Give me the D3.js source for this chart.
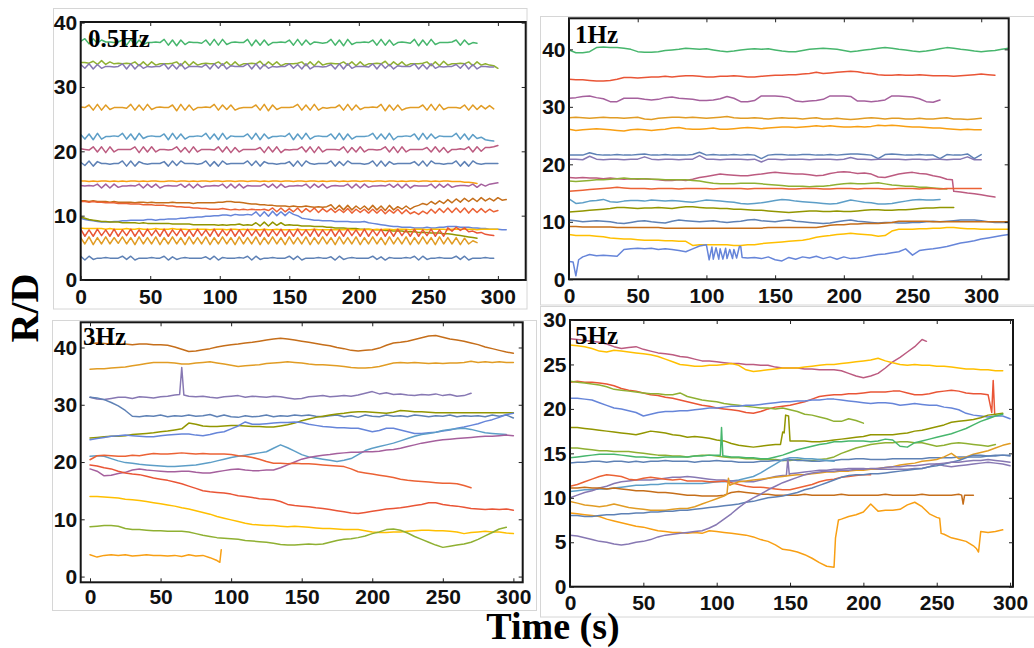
<!DOCTYPE html>
<html>
<head>
<meta charset="utf-8">
<script src="https://cdn.jsdelivr.net/npm/d3@7"></script>
<style>
  html, body { margin: 0; padding: 0; background: #fff; }
  svg { display: block; }
</style>
</head>
<body>
<svg id="fig" width="1034" height="648"></svg>
<script>
// ---------------------------------------------------------------
// R/D traces versus time, four excitation frequencies.
// Each trace is a list of readings on a regular time grid
// (step in seconds given per panel); extra points hold narrow
// spikes and steps as [traceIndex, time, value].
// ---------------------------------------------------------------

const titles = ["0.5Hz", "1Hz", "3Hz", "5Hz"];
const xTicks = [0, 50, 100, 150, 200, 250, 300];
const yTicksA = [0, 10, 20, 30, 40];
const yTicksB = [0, 5, 10, 15, 20, 25, 30];

// ---------------- 0.5 Hz (readings every 3 s) ----------------
const step05 = 3;
const rd05 = [
  [37.1,37.5,36.7,37.5,36.8,37.3,37.0,37.0,36.9,37.0, 37.3,36.5,37.4,36.5,37.3,36.6,36.9,36.9,37.0,36.9, 37.4,36.5,37.3,36.4,37.3,36.6,37.0,36.9,36.9,36.8, 37.3,36.5,37.4,36.5,37.4,36.6,36.9,37.0,36.9,36.9, 37.4,36.4,37.3,36.5,37.3,36.5,36.9,36.9,37.0,36.9, 37.3,36.5,37.4,36.5,37.3,36.6,37.0,36.9,36.8,36.9, 37.4,36.5,37.3,36.4,37.4,36.6,36.9,36.9,37.0,36.9, 37.3,36.5,37.4,36.5,37.3,36.5,36.9,37.0,36.9,36.8, 37.4,36.4,37.3,36.5,37.4,36.6,36.9,36.9,36.9,37.0, 37.3,36.5,37.3,36.6,36.9,36.8],
  [33.8,33.8,33.7,34.0,33.5,34.1,33.5,33.9,33.6,33.7, 33.6,33.7,33.6,33.9,33.3,33.9,33.3,33.9,33.4,33.6, 33.6,33.6,33.7,33.9,33.3,34.0,33.3,33.9,33.4,33.6, 33.7,33.6,33.6,33.9,33.4,33.9,33.3,33.9,33.3,33.6, 33.6,33.7,33.6,34.0,33.3,33.9,33.4,33.9,33.3,33.6, 33.6,33.6,33.7,33.9,33.3,33.9,33.3,34.0,33.4,33.6, 33.7,33.6,33.6,33.9,33.4,33.9,33.3,33.9,33.3,33.6, 33.6,33.7,33.6,34.0,33.3,33.9,33.4,33.9,33.3,33.6, 33.6,33.6,33.7,33.9,33.3,33.9,33.3,34.0,33.4,33.6, 33.6,33.7,33.6,33.9,33.3,33.9,33.4,33.6,33.4,33.3, 32.9],
  [33.5,32.9,33.6,32.8,33.5,32.9,33.2,33.2,33.1,33.2, 33.6,32.8,33.6,32.8,33.5,32.9,33.2,33.1,33.2,33.2, 33.6,32.8,33.5,32.8,33.6,32.8,33.2,33.2,33.2,33.1, 33.5,32.8,33.6,32.9,33.6,32.8,33.3,33.2,33.2,33.2, 33.6,32.8,33.6,32.8,33.5,32.9,33.2,33.1,33.2,33.2, 33.6,32.9,33.5,32.8,33.6,32.8,33.2,33.2,33.1,33.2, 33.5,32.8,33.6,32.8,33.6,32.9,33.2,33.2,33.2,33.1, 33.6,32.8,33.6,32.9,33.5,32.8,33.3,33.2,33.2,33.2, 33.6,32.8,33.5,32.8,33.6,32.9,33.2,33.1,33.2,33.2, 33.5,32.9,33.6,32.8,33.5,32.8,33.2,33.2,33.1,33.1],
  [26.9,26.8,27.2,26.4,27.3,26.4,27.2,26.5,26.8,26.8, 26.8,26.7,27.3,26.4,27.2,26.4,27.3,26.5,26.8,26.9, 26.8,26.8,27.2,26.3,27.3,26.4,27.2,26.4,26.8,26.8, 26.9,26.8,27.3,26.4,27.2,26.5,27.2,26.4,26.7,26.8, 26.8,26.8,27.2,26.4,27.3,26.3,27.2,26.5,26.8,26.8, 26.8,26.9,27.3,26.4,27.2,26.4,27.3,26.4,26.8,26.7, 26.8,26.8,27.2,26.4,27.3,26.4,27.2,26.5,26.8,26.8, 26.9,26.8,27.3,26.3,27.2,26.4,27.2,26.4,26.7,26.8, 26.8,26.8,27.2,26.4,27.3,26.4,27.3,26.5,26.8,26.8, 26.8,26.7,27.2,26.4,27.2,26.5,27.1,26.6,27.1,26.6],
  [22.6,21.9,22.7,21.8,22.8,21.9,22.3,22.3,22.4,22.3, 22.8,21.9,22.7,21.8,22.8,22.0,22.3,22.4,22.3,22.3, 22.7,21.8,22.8,21.9,22.7,21.9,22.3,22.3,22.4,22.3, 22.8,21.9,22.7,21.8,22.8,21.9,22.4,22.3,22.3,22.3, 22.7,21.9,22.8,21.8,22.7,22.0,22.3,22.3,22.4,22.3, 22.8,21.8,22.7,21.9,22.8,21.9,22.3,22.4,22.3,22.3, 22.7,21.9,22.8,21.8,22.7,21.9,22.3,22.3,22.3,22.4, 22.8,21.9,22.7,21.9,22.8,21.8,22.3,22.3,22.4,22.3, 22.7,21.8,22.8,21.9,22.7,22.0,22.4,22.3,22.3,22.3, 22.8,21.9,22.7,21.8,22.6,22.0,22.2,21.8,21.7,21.6],
  [20.4,20.3,20.2,20.7,19.9,20.7,19.8,20.7,19.9,20.3, 20.3,20.3,20.3,20.7,19.8,20.7,19.9,20.7,19.9,20.3, 20.3,20.2,20.3,20.7,19.9,20.6,19.8,20.7,19.9,20.3, 20.3,20.3,20.2,20.7,19.9,20.7,19.8,20.6,19.9,20.3, 20.3,20.3,20.3,20.6,19.8,20.7,19.9,20.7,19.8,20.3, 20.2,20.3,20.3,20.7,19.9,20.7,19.8,20.7,19.9,20.3, 20.3,20.3,20.2,20.7,19.8,20.6,19.9,20.7,19.9,20.3, 20.3,20.2,20.3,20.7,19.9,20.7,19.8,20.7,19.9,20.3, 20.3,20.3,20.3,20.6,19.9,20.7,19.9,20.6,19.8,20.3, 20.3,20.4,20.3,20.7,19.9,20.7,20.0,20.6,20.6,20.7, 20.9],
  [18.3,17.8,18.5,17.7,18.4,18.1,18.1,18.0,18.1,18.1, 18.5,17.7,18.5,17.7,18.4,18.1,18.0,18.1,18.1,18.1, 18.4,17.7,18.5,17.8,18.5,18.1,18.1,18.1,18.0,18.1, 18.5,17.7,18.4,17.7,18.5,18.0,18.1,18.1,18.1,18.1, 18.5,17.8,18.5,17.7,18.4,18.1,18.1,18.0,18.1,18.1, 18.4,17.7,18.5,17.7,18.5,18.1,18.0,18.1,18.1,18.1, 18.5,17.7,18.4,17.8,18.5,18.1,18.1,18.1,18.0,18.1, 18.5,17.7,18.5,17.7,18.4,18.0,18.1,18.1,18.1,18.1, 18.4,17.8,18.5,17.7,18.5,18.1,18.1,18.0,18.1,18.1, 18.5,17.7,18.4,17.7,18.5,18.1,18.0,18.1,18.1,18.1, 18.1],
  [15.4,15.4,15.3,15.4,15.3,15.4,15.4,15.3,15.4,15.3, 15.4,15.3,15.4,15.4,15.3,15.4,15.3,15.4,15.4,15.3, 15.3,15.4,15.4,15.3,15.4,15.4,15.3,15.4,15.3,15.4, 15.4,15.3,15.4,15.4,15.3,15.4,15.4,15.3,15.4,15.4, 15.3,15.4,15.4,15.3,15.4,15.3,15.4,15.4,15.3,15.4, 15.4,15.3,15.4,15.4,15.3,15.4,15.4,15.3,15.4,15.3, 15.4,15.4,15.3,15.4,15.3,15.4,15.4,15.3,15.4,15.4, 15.3,15.4,15.4,15.3,15.4,15.4,15.3,15.4,15.3,15.4, 15.4,15.3,15.4,15.4,15.3,15.4,15.3,15.4,15.4,15.3, 15.3,15.3,15.2,15.2,15.1,15.0],
  [14.7,14.6,14.7,14.6,14.9,14.3,14.9,14.3,14.9,14.4, 14.6,14.6,14.7,14.6,14.9,14.3,14.9,14.4,14.9,14.3, 14.6,14.7,14.6,14.6,14.9,14.4,14.9,14.3,14.9,14.4, 14.6,14.6,14.7,14.6,14.9,14.3,14.9,14.3,14.9,14.3, 14.7,14.6,14.6,14.6,14.9,14.4,14.9,14.3,14.9,14.4, 14.6,14.6,14.7,14.6,14.9,14.3,14.9,14.4,14.9,14.3, 14.6,14.7,14.6,14.6,14.9,14.3,14.9,14.3,14.9,14.4, 14.6,14.6,14.7,14.6,14.9,14.4,14.9,14.3,14.9,14.3, 14.7,14.6,14.6,14.6,14.9,14.3,14.9,14.4,14.9,14.4, 14.6,14.7,14.7,14.6,14.9,14.4,14.9,14.6,14.9,15.0, 15.1],
  [12.3,12.3,12.2,12.3,12.2,12.2,12.2,12.1,12.2,12.1, 12.1,12.1,12.1,12.0,12.1,12.1,12.0,12.1,12.0,12.0, 12.0,12.0,12.1,12.0,12.0,12.0,12.0,11.9,12.0,12.0, 12.0,12.0,12.0,12.1,12.1,12.2,12.2,12.1,12.1,12.0, 11.9,11.8,11.8,11.7,11.7,11.6,11.6,11.5,11.5,11.5, 11.4,11.5,11.4,11.4,11.5,11.4,11.3,11.4,11.3,11.4, 11.7,11.0,11.6,10.9,11.6,10.9,11.5,11.0,11.5,10.9, 11.6,10.9,11.5,10.8,11.6,10.9,11.4,11.0,11.5,11.0, 11.4,11.6,11.9,11.7,12.2,11.8,12.3,11.9,12.5,12.0, 12.6,12.1,12.7,12.2,12.7,12.2,12.8,12.3,12.7,12.3, 12.8,12.4,12.5],
  [12.2,12.2,12.1,12.2,12.1,12.1,12.0,12.0,12.0,11.9, 11.9,11.9,11.8,11.8,11.8,11.7,11.7,11.7,11.6,11.6, 11.6,11.5,11.5,11.4,11.4,11.3,11.3,11.2,11.2,11.1, 11.1,11.0,11.0,11.0,11.1,11.0,10.9,11.0,10.9,11.0, 10.9,11.0,10.9,10.9,11.0,10.8,11.2,10.6,11.2,10.6, 11.1,10.6,11.2,10.5,11.1,10.6,11.2,10.5,11.1,10.6, 11.1,10.5,11.0,10.5,11.1,10.4,11.0,10.5,11.0,10.4, 11.0,10.4,11.0,10.3,10.9,10.4,11.0,10.3,10.9,10.3, 10.6,10.2,10.7,10.3,11.0,10.4,11.1,10.5,11.2,10.5, 11.2,10.5,11.2,10.4,11.1,10.5,11.1,10.5,11.0,10.6, 10.8],
  [9.6,9.4,9.3,9.2,9.1,9.0,9.0,9.0,9.1,9.1, 9.2,9.2,9.3,9.3,9.3,9.3,9.4,9.4,9.3,9.4, 9.4,9.5,9.5,9.5,9.6,9.6,9.7,9.7,9.8,9.8, 9.9,9.9,10.0,10.0,10.1,10.1,10.0,10.2,10.1,10.1, 10.2,10.1,10.6,9.9,10.6,9.9,10.7,10.0,10.6,10.0, 10.6,10.2,10.0,9.6,9.5,9.4,9.3,9.3,9.2,9.2, 9.2,9.1,9.1,9.1,9.1,9.0,9.0,9.0,9.1,8.9, 8.8,8.7,8.6,8.5,8.4,8.3,8.3,8.2,8.2,8.2, 8.1,8.1,8.1,8.2,8.1,8.1,8.2,8.2,8.3,8.3, 8.3,8.2,8.2,8.2,8.1,8.1,8.0,8.0,7.9,7.9, 7.9,7.8,7.8],
  [9.8,9.6,9.4,9.3,9.2,9.1,9.1,9.0,9.0,9.0, 8.9,8.9,8.9,8.9,8.8,8.9,8.8,8.8,8.8,8.8, 8.8,8.8,8.7,8.7,8.7,8.7,8.7,8.6,8.6,8.6, 8.6,8.6,8.6,8.5,8.6,8.5,8.6,8.6,8.7,8.5, 8.6,8.5,8.9,8.4,9.0,8.4,9.0,8.5,8.9,8.5, 8.6,8.5,8.5,8.4,8.4,8.4,8.3,8.3,8.3,8.2, 8.2,8.1,8.1,8.1,8.0,8.0,8.0,7.9,7.9,7.9, 7.8,7.8,7.8,7.7,7.7,7.6,7.6,7.6,7.5,7.5, 7.5,7.4,7.4,7.4,7.3,7.3,7.3,7.2,7.2,7.1, 7.0,6.9,6.8,6.7,6.6,6.5],
  [8.1,8.0,8.0,8.0,8.0,8.0,7.9,8.0,7.9,7.9, 7.9,8.0,7.9,7.9,8.0,7.9,7.9,7.9,8.0,7.9, 7.9,7.9,8.0,7.9,7.9,7.9,7.8,7.9,7.9,7.9, 7.9,7.8,7.9,7.9,7.9,7.8,7.9,7.9,7.8,7.9, 7.8,7.9,7.8,7.8,7.9,7.8,7.8,7.9,7.8,7.8, 7.8,7.8,7.9,7.8,7.8,7.8,7.9,7.8,7.8,7.8, 7.8,7.8,7.8,7.8,7.9,7.8,7.8,7.8,7.8,7.9, 7.8,7.9,7.8,7.9,7.9,7.8,7.9,7.9,7.9,7.8, 7.9,7.9,7.9,7.8,7.9,7.9,7.9,7.9,7.8,7.9, 7.9,7.9,7.9,7.9,7.9,7.8,7.9,7.9,7.9,7.9, 7.9],
  [7.9,6.8,7.8,6.8,7.9,6.9,7.8,6.8,7.9,6.8, 7.8,6.9,7.9,6.8,7.8,6.8,7.9,6.9,7.8,6.8, 7.9,6.8,7.8,6.9,7.9,6.8,7.8,6.8,7.9,6.9, 7.8,6.8,7.9,6.8,7.8,6.9,7.9,6.8,7.8,6.8, 7.9,6.9,7.8,6.8,7.9,6.8,7.8,6.9,7.9,6.8, 7.8,6.8,7.9,6.9,7.8,6.8,7.9,6.8,7.8,6.9, 7.9,6.8,7.8,6.8,7.9,6.9,7.8,6.8,7.9,6.8, 7.8,6.9,7.9,6.8,7.8,6.8,7.9,6.9,7.8,6.8, 7.9,6.8,7.8,6.9,7.9,6.8,7.8,6.8,8.1,7.6, 8.2,7.7,8.1,7.5,7.6,7.3,7.4,7.1,7.0,6.9],
  [6.6,5.6,6.7,5.5,6.6,5.6,6.7,5.6,6.6,5.7, 6.7,5.6,6.6,5.5,6.7,5.6,6.6,5.6,6.7,5.5, 6.6,5.6,6.7,5.6,6.6,5.5,6.7,5.6,6.6,5.6, 6.7,5.5,6.6,5.6,6.7,5.6,6.6,5.5,6.7,5.6, 6.6,5.6,6.7,5.5,6.6,5.6,6.7,5.6,6.6,5.5, 6.7,5.6,6.6,5.6,6.7,5.5,6.6,5.6,6.7,5.6, 6.6,5.5,6.7,5.6,6.6,5.6,6.7,5.5,6.6,5.6, 6.7,5.6,6.6,5.5,6.7,5.6,6.6,5.6,6.7,5.5, 6.6,5.6,6.7,5.6,6.6,5.5,6.7,5.6,6.6,5.6, 6.6,5.5,6.5,5.6,6.1,5.8],
  [3.7,3.1,3.7,3.2,3.4,3.4,3.5,3.4,3.4,3.4, 3.7,3.2,3.7,3.1,3.4,3.4,3.4,3.5,3.4,3.4, 3.7,3.1,3.6,3.2,3.4,3.5,3.4,3.4,3.4,3.4, 3.6,3.2,3.7,3.1,3.5,3.4,3.4,3.4,3.5,3.4, 3.7,3.1,3.7,3.2,3.4,3.4,3.5,3.4,3.4,3.4, 3.7,3.2,3.7,3.1,3.4,3.4,3.4,3.5,3.4,3.4, 3.6,3.1,3.7,3.2,3.4,3.5,3.4,3.4,3.4,3.4, 3.7,3.2,3.6,3.1,3.5,3.4,3.4,3.4,3.5,3.4, 3.7,3.1,3.7,3.2,3.4,3.4,3.5,3.4,3.4,3.4, 3.7,3.2,3.7,3.1,3.4,3.4,3.4,3.5,3.4,3.4]
];
const colors05 = ["#47B66D","#8FB032","#8778B3","#E19C24","#5D9EC7","#BC5B80","#5E81B5","#F89F13",
                  "#A5609D","#C56E1A","#EB6235","#6685D9","#929600","#FFBF00","#E95536","#E19C24","#5E81B5"];
const extra05 = [];

// ---------------- 1 Hz (readings every 5 s) ----------------
const step1 = 5;
const rd1 = [
  [39.9,39.4,39.4,39.6,40.3,40.4,40.3,40.3,40.2,40.0, 39.6,39.5,39.5,39.6,39.8,39.9,40.0,40.2,40.1,40.0, 40.1,39.9,39.7,39.6,39.7,39.9,40.0,40.1,40.0,40.1, 39.9,39.7,39.6,39.6,39.8,40.0,40.1,40.2,40.1,40.0, 39.8,39.6,39.7,39.9,40.0,40.2,40.3,40.2,40.0,39.9, 39.7,39.6,39.7,39.9,40.1,40.3,40.2,40.0,39.9,39.7, 39.6,39.7,39.8,40.0,40.2],
  [34.8,34.7,34.7,34.6,34.5,34.5,34.6,34.8,35.1,35.1, 35.0,35.1,35.2,35.2,35.3,35.2,35.3,35.4,35.4,35.3, 35.2,35.2,35.3,35.3,35.4,35.3,35.2,35.2,35.3,35.4, 35.5,35.5,35.6,35.6,35.7,35.8,36.0,35.8,35.9,36.0, 36.1,36.2,36.1,35.9,35.8,35.6,35.5,35.5,35.6,35.5, 35.5,35.6,35.5,35.4,35.4,35.4,35.3,35.4,35.5,35.6, 35.7,35.6,35.5],
  [31.5,31.6,31.8,31.9,31.6,31.4,30.9,30.9,31.5,31.5, 31.5,31.3,31.2,31.3,31.6,31.7,31.5,31.4,31.3,31.1, 31.1,31.2,31.4,31.8,31.5,30.9,30.9,31.1,31.9,31.9, 31.9,31.8,31.6,31.0,30.9,31.0,31.1,31.3,31.9,31.9, 31.9,31.8,31.0,31.0,30.9,31.0,31.2,31.9,31.9,31.8, 31.7,31.4,30.9,30.8,31.2],
  [28.1,28.2,28.1,28.0,28.1,28.2,28.1,28.1,28.0,28.1, 28.2,27.9,27.8,28.0,28.1,28.2,28.2,28.1,28.2,28.1, 28.0,28.1,28.2,28.3,28.1,28.0,28.0,28.1,28.0,27.9, 28.0,28.1,28.0,28.0,27.9,28.0,28.1,27.9,27.9,28.0, 27.9,27.8,27.9,28.0,28.1,28.0,27.9,28.0,28.0,27.9, 27.9,28.0,27.9,27.9,28.0,28.1,27.9,27.9,27.8,27.9, 28.0],
  [26.1,25.9,26.0,26.1,26.2,26.1,26.0,25.9,25.8,26.0, 26.1,26.0,25.9,26.0,26.1,26.3,26.4,26.2,26.1,26.1, 26.2,26.3,26.1,26.1,26.2,26.3,26.4,26.3,26.2,26.3, 26.4,26.5,26.5,26.4,26.5,26.6,26.7,26.6,26.7,26.6, 26.5,26.5,26.6,26.5,26.6,26.8,26.7,26.8,26.7,26.6, 26.5,26.5,26.4,26.3,26.3,26.2,26.1,26.0,26.1,26.0, 26.0],
  [21.6,21.6,21.6,22.0,21.7,21.6,21.6,21.7,21.6,21.6, 21.7,21.8,21.6,21.6,21.7,21.6,21.6,21.6,21.7,22.1, 21.6,21.7,21.6,21.6,21.7,21.6,21.7,21.6,21.0,21.6, 21.7,21.7,21.6,21.6,21.7,21.7,21.6,21.6,21.7,21.6, 21.7,21.8,21.8,21.7,21.6,21.0,21.7,21.8,21.7,21.6, 21.6,21.7,21.6,21.6,21.0,21.7,21.6,21.6,21.8,21.0, 21.7],
  [20.9,20.9,20.8,21.4,20.9,20.8,20.9,20.9,20.8,20.9, 20.9,21.3,20.9,20.8,20.9,20.9,20.8,20.9,20.9,21.5, 20.9,20.9,20.8,20.9,20.9,20.9,20.8,20.9,20.4,20.9, 20.9,20.8,20.9,20.9,20.9,20.8,20.9,20.9,20.9,20.8, 20.9,21.2,20.9,20.9,20.8,20.9,20.9,20.9,20.9,20.8, 20.9,20.9,20.8,20.9,20.9,20.8,20.9,20.9,21.3,20.8, 20.8],
  [17.7,17.6,17.7,17.6,17.6,17.5,17.6,17.5,17.4,17.5, 17.4,17.5,17.4,17.3,17.2,17.2,17.3,17.2,17.4,17.7, 17.9,18.1,18.3,18.2,18.1,18.0,18.0,18.2,18.3,18.5, 18.6,18.5,18.4,18.3,18.3,18.2,18.0,18.1,18.4,18.6, 18.7,18.6,18.4,18.5,18.3,17.8,17.7,18.0,18.3,18.5, 18.6,18.4,18.3,18.0,17.8,17.4,15.3,15.2,15.0,14.9, 14.7,14.5,14.3],
  [17.1,17.0,17.1,17.2,17.3,17.3,17.4,17.5,17.6,17.5, 17.5,17.5,17.4,17.4,17.3,17.3,17.3,17.3,17.2,17.1, 16.9,16.7,16.6,16.6,16.6,16.7,16.7,16.7,16.6,16.5, 16.4,16.3,16.2,16.2,16.2,16.1,16.2,16.2,16.3,16.5, 16.6,16.7,16.6,16.6,16.7,16.8,16.6,16.4,16.3,16.2, 16.2,16.0,16.0,15.9,15.8,15.7],
  [15.3,15.4,15.5,15.6,15.7,15.8,15.9,16.0,15.9,15.8, 15.8,15.8,15.7,15.8,15.8,15.8,15.7,15.8,15.8,15.8, 15.8,15.7,15.8,15.8,15.8,15.8,15.7,15.8,15.8,15.8, 15.8,15.8,15.7,15.7,15.8,15.8,15.8,15.7,15.7,15.8, 15.8,15.8,15.7,15.8,15.8,15.8,15.7,15.7,15.8,15.8, 15.8,15.7,15.8,15.8,15.7,15.8,15.8,15.8,15.8,15.8, 15.8],
  [14.0,13.2,13.3,13.6,13.7,13.9,13.5,13.4,13.6,13.7, 13.7,13.6,13.8,13.7,13.6,13.7,13.6,13.5,13.4,13.6, 13.8,13.7,13.6,13.5,13.4,13.2,13.1,13.2,13.3,13.5, 13.7,13.9,13.8,13.6,13.5,13.4,13.3,13.2,13.1,13.2, 13.5,13.8,13.6,13.4,13.3,13.1,13.1,13.2,13.4,13.6, 13.8,13.9,13.8,13.8,13.9],
  [11.7,11.8,11.9,12.0,12.1,12.2,12.3,12.5,12.5,12.4, 12.3,12.4,12.4,12.5,12.4,12.3,12.5,12.6,12.6,12.5, 12.4,12.4,12.3,12.3,12.2,12.2,12.1,12.0,12.0,11.9, 11.8,11.7,11.6,11.7,11.8,11.9,11.9,11.8,11.8,11.9, 11.8,11.8,11.9,12.0,12.1,12.1,12.0,12.0,12.1,12.1, 12.2,12.3,12.4,12.4,12.5,12.5,12.5],
  [10.3,10.2,10.0,10.1,10.2,10.1,10.0,9.8,9.7,9.9, 10.1,10.2,10.0,9.9,9.8,10.1,10.3,10.2,10.1,10.0, 10.1,10.2,10.0,9.9,10.0,10.1,10.3,10.4,10.2,10.1, 10.0,10.2,10.3,10.1,10.0,9.9,9.8,9.7,9.8,10.0, 10.2,10.3,10.1,10.0,9.9,9.8,9.9,9.9,9.8,9.8, 9.9,9.9,10.0,10.1,10.0,10.1,10.2,10.3,10.3,10.3, 10.2,10.0,9.9,9.9,9.9],
  [9.2,9.2,9.1,9.1,9.1,9.1,9.1,9.0,9.0,9.0, 9.0,9.0,9.0,9.0,8.9,8.9,8.9,8.9,8.9,8.9, 8.9,8.9,8.9,8.9,8.9,8.9,8.9,8.9,8.9,9.0, 9.0,9.0,9.0,9.0,9.0,9.0,9.0,9.2,9.4,9.5, 9.5,9.6,9.6,9.7,9.7,9.7,9.8,9.9,10.1,10.1, 10.1,10.1,10.1,10.0,10.0,10.0,10.0,10.0,10.0,10.0, 10.0,10.0,10.0,10.0,10.0],
  [7.8,7.6,7.6,7.6,7.5,7.4,7.2,7.1,7.0,7.0, 6.9,6.8,6.8,6.8,6.7,6.7,6.6,6.6,5.9,6.0, 6.0,6.0,6.0,6.0,5.9,5.9,6.0,6.0,6.2,6.3, 6.4,6.5,6.6,6.7,6.8,7.0,7.3,7.5,7.6,7.8, 7.9,8.0,7.9,7.8,7.7,7.5,7.6,8.4,8.7,8.7, 8.7,8.8,8.8,8.9,8.9,9.0,9.0,8.9,8.8,8.8, 8.7,8.7,8.7,8.7,8.7],
  [3.1,0.6,3.9,4.3,4.1,4.2,4.1,4.0,5.2,5.3, 5.4,5.3,5.4,5.2,5.3,5.2,5.0,4.8,5.3,5.8, 6.0,3.5,5.3,3.6,5.2,5.7,3.7,3.8,3.6,3.9, 3.4,3.2,3.8,3.5,3.9,3.7,4.0,3.6,3.9,3.5, 3.9,3.6,3.7,3.9,4.1,4.3,4.4,4.6,4.8,5.3, 4.2,5.0,5.2,5.3,5.5,5.7,6.0,6.3,6.5,6.7, 7.0,7.2,7.4,7.6,7.8]
];
const colors1 = ["#47B66D","#E95536","#A5609D","#E19C24","#F89F13","#5E81B5","#8778B3","#BC5B80",
                 "#8FB032","#EB6235","#5D9EC7","#929600","#5E81B5","#C56E1A","#FFBF00","#6685D9"];
const extra1 = [
  [7, 279, 17.3],
  [15, 3, 3.0], [15, 7, 3.4],
  [15, 102, 3.4], [15, 104, 5.6], [15, 107, 5.5], [15, 109, 3.5], [15, 112, 3.5], [15, 114, 5.4],
  [15, 117, 5.2], [15, 119, 3.6], [15, 122, 3.7], [15, 124, 5.7], [15, 126, 3.8]
];

// ---------------- 3 Hz (readings every 5 s) ----------------
const step3 = 5;
const rd3 = [
  [40.7,40.8,40.7,40.6,40.6,40.6,40.5,40.6,40.6,40.5, 40.5,40.4,40.1,39.7,39.3,39.4,39.6,39.8,40.1,40.3, 40.5,40.6,40.8,40.9,41.1,41.3,41.5,41.6,41.5,41.3, 41.1,40.9,40.7,40.5,40.3,40.0,39.8,39.5,39.4,39.5, 39.6,39.9,40.4,40.8,40.9,41.1,41.4,41.7,42.0,42.1, 41.8,41.5,41.3,41.1,40.8,40.5,40.1,39.8,39.5,39.2, 39.0],
  [36.2,36.3,36.3,36.4,36.5,36.6,36.8,37.0,37.2,37.4, 37.4,37.4,37.3,37.1,37.1,37.3,37.4,37.5,37.3,37.1, 36.9,36.7,36.8,36.9,37.0,37.2,37.3,37.4,37.5,37.4, 37.3,37.1,37.0,37.0,36.9,36.8,36.7,36.5,36.4,36.4, 36.5,36.7,37.0,37.3,37.4,37.3,37.4,37.3,37.2,37.3, 37.2,37.3,37.3,37.4,37.6,37.4,37.5,37.4,37.5,37.4, 37.4],
  [31.3,31.0,30.9,31.1,31.3,31.3,31.1,31.4,31.3,31.2, 31.4,31.5,31.7,36.5,31.5,31.4,31.5,31.3,31.2,31.4, 31.5,31.6,31.3,31.5,31.4,31.3,31.5,31.4,31.2,31.0, 31.1,31.4,31.5,31.6,31.4,31.5,31.6,31.5,31.7,32.0, 32.3,31.9,32.1,31.8,31.9,31.7,31.6,31.8,31.7,31.9, 31.6,31.8,31.5,31.6,32.0],
  [31.3,31.2,30.9,30.4,29.8,29.0,28.0,27.9,28.1,28.0, 28.2,27.9,28.1,28.0,28.2,28.0,28.1,28.3,27.9,28.2, 27.9,27.8,28.1,27.9,28.0,28.2,27.9,28.1,28.0,28.2, 28.1,28.2,28.0,27.9,28.1,28.2,27.9,28.1,27.8,28.2, 28.0,27.9,28.2,28.0,28.1,27.9,28.2,28.1,27.9,28.1, 28.0,28.2,27.9,28.1,28.0,28.1,27.9,28.2,28.0,28.2, 27.7],
  [24.2,24.3,24.4,24.5,24.5,24.6,24.8,24.9,25.0,25.1, 25.3,25.4,25.6,25.8,26.8,26.6,26.3,26.2,26.2,26.3, 26.4,26.4,26.3,26.2,26.2,26.1,26.1,26.3,26.5,26.8, 27.2,27.5,27.8,28.0,28.2,28.4,28.5,28.7,28.8,28.8, 28.7,28.6,28.5,28.7,29.0,28.9,28.8,28.8,28.7,28.6, 28.6,28.6,28.6,28.6,28.6,28.6,28.6,28.6,28.6,28.6, 28.6],
  [23.9,24.1,24.3,24.5,24.6,24.7,24.6,24.5,24.4,24.4, 24.6,24.7,24.8,24.9,24.9,24.7,24.6,24.8,25.1,25.3, 25.8,26.3,27.0,26.6,26.6,26.7,26.8,26.9,26.9,27.0, 26.9,26.6,26.4,26.2,26.1,26.0,26.0,25.9,25.9,25.6, 25.3,25.5,25.9,25.9,25.6,25.3,25.0,25.0,25.1,25.2, 25.4,25.6,25.9,26.1,26.4,26.7,27.1,27.4,27.8,28.3, 28.5],
  [21.0,21.1,21.0,20.6,20.2,19.9,19.8,19.6,19.5,19.4, 19.3,19.2,19.2,19.3,19.4,19.5,19.7,19.9,20.2,20.5, 20.8,21.0,21.2,21.4,21.6,21.8,22.4,23.0,22.5,21.9, 21.3,20.9,20.7,20.5,20.3,20.1,20.3,20.6,21.3,22.0, 22.4,22.7,23.0,23.3,23.7,24.1,24.5,24.8,25.0,25.2, 25.5,25.7,25.8,25.9,25.7,25.4,25.1,25.0,24.9,24.8],
  [18.8,18.4,17.6,17.7,18.0,18.2,18.6,18.8,18.6,18.5, 18.4,18.3,18.3,18.4,18.4,18.2,18.1,18.1,18.3,18.5, 18.7,18.8,18.6,18.5,18.5,18.6,18.6,19.0,19.5,20.0, 20.5,20.8,21.0,21.2,21.3,21.5,21.6,21.7,21.7,21.8, 21.8,21.9,22.1,22.2,22.4,22.7,23.0,23.3,23.5,23.7, 23.9,24.0,24.1,24.2,24.3,24.4,24.5,24.5,24.6,24.7, 24.6],
  [20.4,21.1,21.2,21.1,21.0,21.0,21.2,21.1,21.3,21.5, 21.4,21.4,21.5,21.6,21.5,21.4,21.5,21.4,21.4,21.4, 21.3,21.1,21.0,20.8,20.5,20.1,19.8,19.8,19.7,19.8, 19.7,19.7,19.6,19.5,19.4,19.3,19.2,18.8,18.3,18.1, 17.9,17.7,17.5,17.3,17.0,16.8,16.7,16.6,16.5,16.4, 16.3,16.3,16.2,15.9,15.5],
  [19.5,19.3,19.0,18.8,18.4,18.1,17.9,17.8,17.5,17.2, 17.0,16.8,16.5,16.2,15.8,15.4,15.0,14.8,14.7,14.6, 14.4,14.1,14.0,13.8,13.6,13.5,13.4,13.1,12.6,12.4, 12.3,12.2,12.0,11.9,11.7,11.5,11.3,11.1,11.0,11.2, 11.4,11.6,11.8,11.9,12.0,12.2,12.4,12.6,12.9,12.9, 12.6,12.4,12.3,12.1,11.9,11.8,11.7,11.8,11.7,11.8, 11.6],
  [14.0,14.0,13.9,13.8,13.7,13.5,13.4,13.3,13.1,12.9, 12.7,12.5,12.3,12.0,11.8,11.5,11.2,10.9,10.5,10.2, 9.9,9.6,9.3,9.1,9.0,8.9,8.9,8.8,8.7,8.8, 8.7,8.6,8.5,8.4,8.4,8.3,8.2,8.2,8.2,8.0, 7.8,7.7,7.7,7.8,7.8,7.9,8.0,8.1,8.1,8.0, 8.0,7.9,7.8,7.5,7.7,7.8,7.9,7.8,7.8,7.6, 7.5],
  [8.7,8.8,8.9,8.9,8.8,8.4,8.2,8.2,8.1,8.0, 8.0,7.9,7.9,7.9,7.8,7.5,7.2,7.0,6.8,6.7, 6.6,6.5,6.3,6.2,6.1,6.0,5.8,5.6,5.5,5.5, 5.6,5.7,5.6,5.7,6.0,6.3,6.5,6.6,6.8,7.1, 7.5,7.8,8.2,8.3,8.1,7.6,7.0,6.5,6.0,5.5, 5.1,5.3,5.5,5.7,6.0,6.5,7.1,7.7,8.3,8.6],
  [3.8,3.4,3.7,3.8,3.7,3.8,3.6,3.7,3.8,3.7, 3.7,3.6,3.7,3.5,3.8,3.6,3.7,3.3,2.8]
];
const colors3 = ["#C56E1A","#E19C24","#8778B3","#5E81B5","#929600","#6685D9","#5D9EC7","#A5609D",
                 "#EB6235","#E95536","#FFBF00","#8FB032","#F89F13"];
const extra3 = [
  [2, 63.5, 31.8], [2, 66.5, 31.7],
  [12, 92, 2.5], [12, 93, 4.7]
];

// ---------------- 5 Hz (readings every 5 s) ----------------
const step5 = 5;
const rd5 = [
  [27.9,27.8,27.7,27.6,27.5,27.3,27.0,26.8,26.9,27.0, 26.7,26.5,26.3,26.2,26.1,25.9,25.8,25.6,25.4,25.4, 25.3,25.2,25.1,25.1,25.0,25.0,24.9,24.9,24.7,24.6, 24.6,24.6,24.5,24.5,24.4,24.4,24.4,24.3,24.0,23.7, 23.5,23.7,24.0,24.6,25.3,25.8,26.4,27.0,27.8],
  [27.2,27.1,27.0,26.8,26.5,26.4,26.6,26.5,26.4,26.3, 26.2,26.1,25.9,25.6,25.3,25.0,24.9,24.8,24.8,24.9, 24.9,25.0,25.1,24.9,24.4,24.2,24.3,24.4,24.5,24.6, 24.6,24.6,24.7,24.8,24.9,25.0,25.0,25.1,25.2,25.3, 25.4,25.5,25.7,25.4,25.2,25.0,24.9,25.0,24.9,24.9, 24.8,24.8,24.7,24.6,24.5,24.5,24.4,24.4,24.3,24.3],
  [23.0,23.1,23.0,23.0,22.9,22.8,22.6,22.3,22.1,22.0, 21.8,21.6,21.5,21.3,21.2,21.0,20.8,20.6,20.4,20.3, 20.1,20.0,19.9,19.8,19.6,19.5,19.7,20.0,20.2,20.3, 20.4,20.6,20.8,21.1,21.4,21.5,21.6,21.6,21.7,21.7, 21.8,21.9,21.9,21.9,22.0,22.0,21.8,21.6,21.6,21.7, 21.9,22.0,22.1,22.0,21.8,21.7,21.7,21.6],
  [23.1,23.0,22.9,22.8,22.7,22.5,22.2,22.1,22.0,21.9, 21.8,21.7,21.7,21.6,21.6,21.8,21.4,21.2,21.0,20.9, 20.8,20.6,20.5,20.4,20.3,20.2,20.1,20.1,20.0,20.1, 19.9,19.7,19.4,19.3,19.1,18.9,18.6,18.6,18.9,18.7, 18.4],
  [21.2,21.2,21.1,21.0,20.7,20.4,20.1,20.0,19.8,19.6, 19.2,19.4,19.6,19.7,19.7,19.8,19.8,19.9,20.0,20.1, 20.1,20.2,20.3,20.3,20.4,20.4,20.5,20.6,20.7,20.8, 20.8,20.9,20.9,21.0,21.0,21.1,21.1,21.0,20.9,20.8, 20.7,20.6,20.7,20.7,20.6,20.4,20.5,20.6,20.5,20.4, 20.4,20.2,20.1,19.9,19.5,19.3,19.2,19.1,19.2,19.2, 18.9],
  [17.9,17.9,17.8,17.7,17.6,17.5,17.4,17.3,17.2,17.1, 17.3,17.5,17.4,17.3,17.1,17.0,16.8,16.9,16.8,16.7, 16.5,16.4,16.1,15.9,15.8,15.7,15.8,15.9,16.0,17.4, 16.4,16.4,16.4,16.3,16.3,16.4,16.5,16.6,16.7,16.8, 16.9,17.1,17.1,17.1,17.1,17.2,17.3,17.5,17.6,17.8, 18.0,18.2,18.5,18.6,18.7,18.8,19.0,19.3,19.4,19.5],
  [15.6,15.6,15.5,15.4,15.3,15.3,15.2,15.2,15.2,15.1, 15.0,14.9,14.8,14.8,14.7,14.7,14.6,14.7,14.8,14.8, 14.7,14.6,14.5,14.5,14.4,14.4,14.3,14.3,14.3,14.2, 14.2,14.3,14.2,14.2,14.3,14.4,14.6,15.0,15.3,15.6, 15.8,16.0,16.1,16.2,16.2,16.3,16.3,16.2,16.2,16.0, 15.8,15.9,16.1,16.2,16.1,16.0,15.9,15.8,16.0],
  [14.5,14.6,14.7,14.8,14.9,14.9,14.9,14.8,14.7,14.6, 14.6,14.5,14.5,14.6,14.6,14.6,14.6,14.7,14.7,14.8, 14.8,14.7,14.6,14.6,14.5,14.5,14.4,14.4,14.6,14.8, 15.1,15.4,15.6,15.8,16.0,16.1,16.3,16.3,16.4,16.4, 16.4,16.3,16.4,16.6,16.5,15.8,15.7,16.2,16.4,16.6, 16.8,17.0,17.2,17.5,17.8,18.2,18.6,18.9,19.2,19.4],
  [13.9,14.0,14.0,14.1,14.1,14.0,14.1,14.1,14.0,14.1, 14.0,14.1,14.1,14.2,14.1,14.1,14.1,14.0,14.1,14.1, 14.2,14.1,14.1,14.0,14.0,14.0,14.1,14.1,14.2,14.2, 14.3,14.2,14.2,14.1,14.1,14.2,14.2,14.3,14.3,14.4, 14.4,14.3,14.3,14.3,14.4,14.4,14.4,14.4,14.4,14.5, 14.5,14.5,14.5,14.6,14.6,14.6,14.6,14.7,14.7,14.8, 14.8],
  [10.7,10.8,10.9,10.9,11.0,11.0,11.1,11.2,11.3,11.4, 11.4,11.5,11.5,11.6,11.6,11.6,11.6,11.6,11.6,11.7, 11.8,11.8,11.9,12.0,12.2,12.4,12.8,13.3,13.8,14.3, 14.5,14.5,14.4,14.4,14.3,14.2,14.1],
  [10.0,10.3,10.6,10.8,11.1,11.3,11.6,11.8,11.9,12.0, 12.0,12.0,12.1,12.2,12.3,12.3,12.4,12.3,12.2,12.1, 12.0,12.0,11.9,11.9,11.8,11.8,12.0,12.2,12.4,12.5, 12.7,12.8,12.9,13.0,13.1,13.1,13.2,13.2,13.3,13.3, 13.3,13.2,13.2,13.2,13.2,13.2,13.2,13.3,13.3,13.5, 13.8,13.6,13.5,13.6,13.7,13.8,13.9,14.0,13.9,13.8, 13.6],
  [11.3,11.5,11.8,12.1,12.4,12.6,12.5,12.4,12.1,12.0, 12.2,12.3,12.2,12.1,12.0,12.1,11.9,11.9,11.9,11.8, 11.8,11.9,11.7,11.5,11.3,11.2,11.2,11.1,11.0,10.9, 10.9,11.1,11.3,11.5,11.8,12.0,12.1,12.3,12.4,12.5, 12.6,12.6],
  [11.1,11.1,11.2,11.1,11.1,11.0,11.1,11.0,10.9,10.8, 10.8,10.7,10.6,10.6,10.5,10.4,10.3,10.3,10.2,10.2, 10.2,10.3,10.6,10.7,10.6,10.5,10.4,10.4,10.3,10.3, 10.3,10.3,10.4,10.3,10.3,10.3,10.3,10.4,10.3,10.3, 10.3,10.3,10.3,10.4,10.3,10.3,10.3,10.3,10.4,10.3, 10.3,10.3,10.3,10.4,10.3,10.3],
  [9.6,9.4,9.2,9.1,9.0,9.1,9.3,9.1,8.9,8.8, 8.7,8.6,8.6,8.6,8.7,8.8,8.8,9.0,9.3,9.6, 9.9,10.2,11.5,11.8,11.9,12.0,12.1,12.2,12.3,12.4, 12.5,12.6,12.6,12.7,12.8,12.9,12.9,13.0,13.0,13.1, 13.1,13.2,13.3,13.4,13.5,13.7,13.8,13.9,14.1,14.2, 14.3,14.6,15.0,14.4,14.6,14.9,15.1,15.3,15.6,15.9, 16.1],
  [8.3,8.2,8.1,8.0,7.9,7.6,7.4,7.2,7.0,6.8, 6.7,6.5,6.3,6.2,6.1,6.1,6.0,6.1,6.0,6.3, 6.2,6.1,6.0,5.9,5.8,5.6,5.3,5.1,4.7,4.2, 4.1,3.9,3.6,3.2,2.7,2.3,2.2,7.6,7.9,8.1, 8.4,9.3,8.5,8.6,8.6,8.7,9.2,9.5,9.0,8.2, 7.8,5.9,5.5,5.3,5.1,4.6,6.2,6.1,6.2,6.4],
  [8.0,8.0,7.9,7.9,8.0,8.1,8.1,8.2,8.2,8.3, 8.3,8.4,8.4,8.5,8.5,8.6,8.6,8.7,8.8,8.9, 9.0,9.1,9.2,9.3,9.5,9.6,9.8,10.0,10.1,10.2, 10.4,10.6,10.9,11.1,11.4,11.7,12.0,12.3,12.5,12.6, 12.6,12.7,12.7,12.8,12.9,13.0,13.1,13.2,13.3,13.5, 13.6,13.8,14.0,14.2,14.5,14.8,14.8,14.7,14.8,14.8, 14.7],
  [5.8,5.7,5.5,5.3,5.1,5.0,4.8,4.7,4.8,5.0, 5.1,5.3,5.6,5.8,5.9,6.0,6.1,6.2,6.3,6.6, 7.0,7.6,8.2,8.9,9.5,10.0,10.4,10.9,11.3,11.7, 12.0,12.3,12.6,12.8,12.9,13.0,13.0,13.1,13.1,13.2, 13.2,13.3,13.3,13.4,13.5,13.5,13.6,13.6,13.7,13.8, 13.8,13.9,14.0,14.0,14.1,14.2,14.2,14.3,14.2,14.1, 14.0]
];
const colors5 = ["#BC5B80","#FFBF00","#E95536","#8FB032","#6685D9","#929600","#8FB032","#47B66D",
                 "#5E81B5","#5D9EC7","#8778B3","#EB6235","#C56E1A","#E19C24","#F89F13","#5E81B5","#8778B3"];
const extra5 = [
  [0, 243, 27.6],
  [2, 287.5, 19.6], [2, 288.5, 23.2], [2, 289.5, 19.5],
  [5, 143.5, 16.0], [5, 146, 17.3], [5, 147, 19.3], [5, 149, 19.2],
  [7, 102.5, 14.8], [7, 103.3, 17.9], [7, 104.2, 14.7],
  [10, 147.5, 12.5], [10, 148.5, 14.4], [10, 149.5, 12.6],
  [12, 267, 10.3], [12, 268, 9.3], [12, 269, 10.3],
  [13, 107, 10.4], [13, 108, 12.2], [13, 109, 11.4],
  [14, 181, 5.5], [14, 183, 7.5], [14, 252, 7.7], [14, 253, 6.0], [14, 277, 4.3], [14, 278.5, 3.9]
];

// ---------------- layout of the four panels ----------------
const panels = [
  { id: "p05", title: titles[0], traces: rd05, step: step05, colors: colors05, extra: extra05,
    box: [80.7, 22, 525.7, 280], xDom: [0, 320], yDom: [0, 40.1], yTicks: yTicksA,
    outline: [53.5, 8.5, 527, 309], pad: 9, titlePos: [88, 47] },
  { id: "p1", title: titles[1], traces: rd1, step: step1, colors: colors1, extra: extra1,
    box: [569, 18.3, 1008.7, 279.3], xDom: [0, 320], yDom: [0, 45.4], yTicks: yTicksA,
    outline: [540.5, 16.5, 1040, 305], pad: 9, titlePos: [575, 43] },
  { id: "p3", title: titles[2], traces: rd3, step: step3, colors: colors3, extra: extra3,
    box: [80.7, 322.3, 522.7, 582.3], xDom: [-6.6, 306.6], yDom: [-1, 44.4], yTicks: yTicksA,
    outline: [52.5, 320.5, 536.5, 610.5], pad: 7, titlePos: [83, 345] },
  { id: "p5", title: titles[3], traces: rd5, step: step5, colors: colors5, extra: extra5,
    box: [570, 320, 1013, 586.7], xDom: [0, 302], yDom: [0, 30], yTicks: yTicksB,
    outline: [540.5, 306.5, 1040, 617], pad: 8, titlePos: [575, 344] }
];

const svg = d3.select("#fig");
const tickFont = "'Liberation Sans', Arial, Helvetica, sans-serif";
const serifFont = "'Liberation Serif', 'Times New Roman', Times, serif";

svg.append("rect").attr("width", 1034).attr("height", 648).attr("fill", "#fff");

panels.forEach(p => {
  const [x0, y0, x1, y1] = p.box;
  const x = d3.scaleLinear().domain(p.xDom).range([x0, x1]);
  const y = d3.scaleLinear().domain(p.yDom).range([y1, y0]);

  // light outline around each sub-figure
  const [ox0, oy0, ox1, oy1] = p.outline;
  svg.append("rect")
    .attr("x", ox0).attr("y", oy0).attr("width", ox1 - ox0).attr("height", oy1 - oy0)
    .attr("fill", "none").attr("stroke", "#d6d6d6").attr("stroke-width", 1);

  svg.append("clipPath").attr("id", "clip-" + p.id)
    .append("rect").attr("x", x0).attr("y", y0 - 1).attr("width", x1 - x0).attr("height", y1 - y0 + 1);

  const line = d3.line().x(d => x(d[0])).y(d => y(d[1]));
  const gLines = svg.append("g").attr("clip-path", "url(#clip-" + p.id + ")");

  p.traces.forEach((vals, i) => {
    const pts = vals.map((v, k) => [k * p.step, v]);
    p.extra.filter(e => e[0] === i).forEach(e => pts.push([e[1], e[2]]));
    pts.sort((a, b) => a[0] - b[0]);
    gLines.append("path")
      .attr("d", line(pts))
      .attr("fill", "none")
      .attr("stroke", p.colors[i])
      .attr("stroke-width", 1.5)
      .attr("stroke-linejoin", "round")
      .attr("stroke-linecap", "round");
  });

  // frame
  svg.append("rect")
    .attr("x", x0).attr("y", y0).attr("width", x1 - x0).attr("height", y1 - y0)
    .attr("fill", "none").attr("stroke", "#151515").attr("stroke-width", 2);

  // inward tick marks on all four sides
  const inner = [
    [d3.axisBottom(x).tickValues(xTicks), `translate(0,${y1})`],
    [d3.axisTop(x).tickValues(xTicks), `translate(0,${y0})`],
    [d3.axisLeft(y).tickValues(p.yTicks), `translate(${x0},0)`],
    [d3.axisRight(y).tickValues(p.yTicks), `translate(${x1},0)`]
  ];
  inner.forEach(([ax, tr]) => {
    const g = svg.append("g").attr("transform", tr)
      .call(ax.tickSize(-4).tickFormat(""));
    g.select(".domain").remove();
    g.selectAll("line").attr("stroke", "#222");
  });

  // tick labels
  const gx = svg.append("g").attr("transform", `translate(0,${y1})`)
    .call(d3.axisBottom(x).tickValues(xTicks).tickSize(0).tickPadding(p.pad).tickFormat(d3.format("d")));
  const gy = svg.append("g").attr("transform", `translate(${x0},0)`)
    .call(d3.axisLeft(y).tickValues(p.yTicks).tickSize(0).tickPadding(3.5).tickFormat(d3.format("d")));
  [gx, gy].forEach(g => {
    g.select(".domain").remove();
    g.attr("font-family", tickFont).attr("font-size", 21).attr("font-weight", "bold").attr("color", "#111");
  });

  // panel title
  svg.append("text")
    .attr("x", p.titlePos[0]).attr("y", p.titlePos[1])
    .attr("font-family", serifFont).attr("font-weight", "bold").attr("font-size", 25)
    .attr("fill", "#000")
    .text(p.title);
});

// shared axis titles
svg.append("text")
  .attr("transform", "translate(38,308) rotate(-90)")
  .attr("text-anchor", "middle")
  .attr("font-family", serifFont).attr("font-weight", "bold").attr("font-size", 40)
  .attr("fill", "#000")
  .text("R/D");

svg.append("text")
  .attr("x", 553).attr("y", 639)
  .attr("text-anchor", "middle")
  .attr("font-family", serifFont).attr("font-weight", "bold").attr("font-size", 38)
  .attr("fill", "#000")
  .text("Time (s)");
</script>
</body>
</html>
